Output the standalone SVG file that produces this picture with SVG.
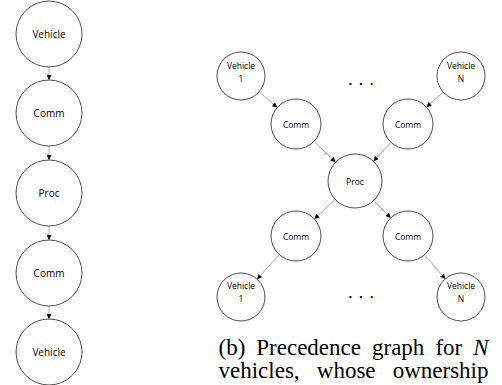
<svg xmlns="http://www.w3.org/2000/svg" width="502" height="385" viewBox="0 0 502 385">
<style>
.node circle{fill:#fff;stroke:#222;stroke-width:0.8}
.lbl{font-family:"Open Sans","Liberation Sans",sans-serif;fill:#000;text-anchor:middle;dominant-baseline:central}
.big{font-size:10px}
.small{font-size:8.5px}
.edge{stroke:#888;stroke-width:0.7;fill:none;marker-end:url(#ah)}
.dots{font-family:"Liberation Sans",Arial,sans-serif;font-size:19px;text-anchor:middle;fill:#000}
.cap{font-family:"Liberation Serif","Times New Roman",serif;font-size:23px;fill:#000}
</style>
<defs>
<marker id="ah" viewBox="0 0 10 10" refX="10" refY="5" markerWidth="5" markerHeight="5" markerUnits="userSpaceOnUse" orient="auto">
<path d="M0,0 L10,5 L0,10 z" fill="#000"/>
</marker>
</defs>
<rect width="502" height="385" fill="#fff"/>
<g id="connectors">
<line class="edge" x1="49" y1="67" x2="49" y2="80"/>
<line class="edge" x1="49" y1="146" x2="49" y2="160"/>
<line class="edge" x1="49" y1="226" x2="49" y2="240"/>
<line class="edge" x1="49" y1="306" x2="49" y2="319"/>
<line class="edge" x1="259.1" y1="91.8" x2="277.2" y2="107.6"/>
<line class="edge" x1="443.2" y1="92.1" x2="426.5" y2="107.2"/>
<line class="edge" x1="314" y1="141.4" x2="335.6" y2="162.2"/>
<line class="edge" x1="391" y1="142.3" x2="373.4" y2="161.2"/>
<line class="edge" x1="335.3" y1="199.4" x2="314.3" y2="219"/>
<line class="edge" x1="373.7" y1="200.4" x2="390.7" y2="218"/>
<line class="edge" x1="279.3" y1="254.6" x2="257.1" y2="279.2"/>
<line class="edge" x1="424.4" y1="254.9" x2="445.3" y2="278.9"/>
</g>
<g id="a-vehicle-top" class="node"><circle cx="49" cy="34" r="33"/><text class="lbl big" x="49" y="34">Vehicle</text></g>
<g id="a-comm-1" class="node"><circle cx="49" cy="113" r="33"/><text class="lbl big" x="49" y="113">Comm</text></g>
<g id="a-proc" class="node"><circle cx="49" cy="193" r="33"/><text class="lbl big" x="49" y="193">Proc</text></g>
<g id="a-comm-2" class="node"><circle cx="49" cy="273" r="33"/><text class="lbl big" x="49" y="273">Comm</text></g>
<g id="a-vehicle-bottom" class="node"><circle cx="49" cy="352" r="33"/><text class="lbl big" x="49" y="352">Vehicle</text></g>

<g id="b-vehicle1-top" class="node"><circle cx="241" cy="76" r="24"/><text class="lbl small" x="241" y="65.5">Vehicle</text><text class="lbl small" x="241" y="78">1</text></g>
<g id="b-vehicleN-top" class="node"><circle cx="461" cy="76" r="24"/><text class="lbl small" x="461" y="65.5">Vehicle</text><text class="lbl small" x="461" y="78">N</text></g>
<g id="b-comm-top-left" class="node"><circle cx="296" cy="124" r="25"/><text class="lbl small" x="296" y="124">Comm</text></g>
<g id="b-comm-top-right" class="node"><circle cx="408" cy="124" r="25"/><text class="lbl small" x="408" y="124">Comm</text></g>
<g id="b-proc" class="node"><circle cx="355" cy="181" r="27"/><text class="lbl small" x="355" y="181">Proc</text></g>
<g id="b-comm-bottom-left" class="node"><circle cx="296" cy="236" r="25"/><text class="lbl small" x="296" y="236">Comm</text></g>
<g id="b-comm-bottom-right" class="node"><circle cx="408" cy="236" r="25"/><text class="lbl small" x="408" y="236">Comm</text></g>
<g id="b-vehicle1-bottom" class="node"><circle cx="241" cy="297" r="24"/><text class="lbl small" x="241" y="285.5">Vehicle</text><text class="lbl small" x="241" y="298">1</text></g>
<g id="b-vehicleN-bottom" class="node"><circle cx="461" cy="297" r="24"/><text class="lbl small" x="461" y="285.5">Vehicle</text><text class="lbl small" x="461" y="298">N</text></g>

<text class="dots" x="361" y="84.5">. . .</text>
<text class="dots" x="361" y="298">. . .</text>

<text class="cap" y="355"><tspan x="218.5">(b)</tspan><tspan x="256.3">Precedence</tspan><tspan x="372">graph</tspan><tspan x="435.4">for</tspan><tspan x="473.2" font-style="italic">N</tspan></text>
<text class="cap" y="378"><tspan x="218.5">vehicles,</tspan><tspan x="316.8">whose</tspan><tspan x="392.7">ownership</tspan></text>
</svg>
